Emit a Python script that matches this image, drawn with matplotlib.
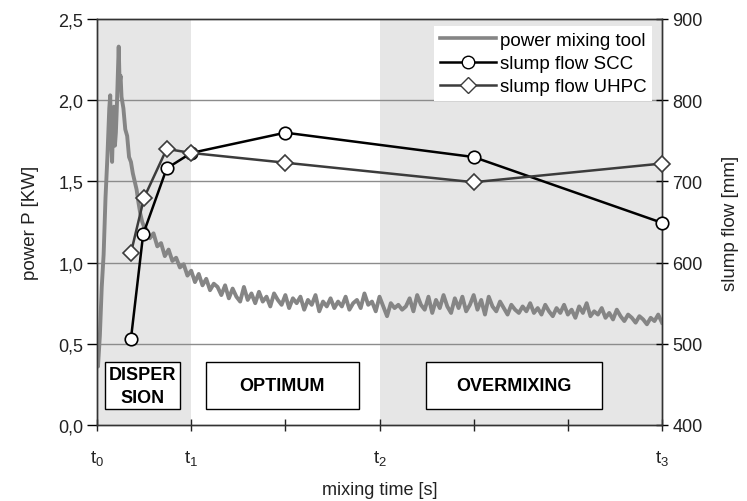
import numpy as np
import matplotlib
matplotlib.use("Agg")
import matplotlib.pyplot as plt
from matplotlib.patches import Rectangle
from matplotlib.lines import Line2D

plt.rcParams['font.family'] = ['Liberation Sans', 'DejaVu Sans']
plt.rcParams['mathtext.fontset'] = 'custom'
plt.rcParams['mathtext.rm'] = 'Liberation Sans'

# ---------------- data ----------------
# mixing time axis in units of tick spacing (t0=0, t1=1, t2=3, t3=6)
x_tick_pos = [0, 1, 2, 3, 4, 5, 6]
x_tick_labels = [r"$\mathregular{t_0}$", r"$\mathregular{t_1}$", "", r"$\mathregular{t_2}$", "", "", r"$\mathregular{t_3}$"]
left_ticks = [0.0, 0.5, 1.0, 1.5, 2.0, 2.5]
left_tick_labels = ["0,0", "0,5", "1,0", "1,5", "2,0", "2,5"]
right_ticks = [400, 500, 600, 700, 800, 900]
right_tick_labels = ["400", "500", "600", "700", "800", "900"]

# power of mixing tool [kW] - start-up peak
power_t_start = [0.00, 0.01, 0.03, 0.05, 0.07, 0.09, 0.11, 0.13, 0.14, 0.15, 0.16, 0.17,
                 0.18, 0.19, 0.20, 0.21, 0.22, 0.23, 0.24, 0.25, 0.26, 0.28, 0.30, 0.32,
                 0.34, 0.36, 0.38, 0.40, 0.42, 0.44, 0.46, 0.48, 0.50]
power_p_start = [0.40, 0.36, 0.55, 0.85, 1.05, 1.40, 1.65, 1.95, 2.03, 1.75, 1.62, 1.85,
                 1.96, 1.72, 1.80, 1.95, 2.15, 2.33, 2.10, 2.15, 2.02, 1.95, 1.82, 1.78,
                 1.65, 1.62, 1.55, 1.50, 1.45, 1.37, 1.30, 1.25, 1.22]
# power values read every 0.04 time units from 0.52 to 6.00
power_p_rest = [
    1.21, 1.15, 1.18, 1.10, 1.12, 1.04, 1.08, 1.01, 1.03, 0.97,
    0.99, 0.92, 0.95, 0.88, 0.93, 0.86, 0.90, 0.83, 0.87, 0.85,
    0.80, 0.86, 0.78, 0.84, 0.79, 0.76, 0.85, 0.77, 0.81, 0.75,
    0.82, 0.76, 0.79, 0.73, 0.81, 0.77, 0.74, 0.80, 0.72, 0.78,
    0.75, 0.79, 0.71, 0.77, 0.74, 0.80, 0.70, 0.76, 0.73, 0.78,
    0.72, 0.76, 0.73, 0.79, 0.71, 0.75, 0.77, 0.72, 0.81, 0.74,
    0.76, 0.70, 0.79, 0.73, 0.67, 0.75, 0.72, 0.74, 0.71, 0.73,
    0.78, 0.70, 0.80, 0.74, 0.71, 0.79, 0.69, 0.77, 0.72, 0.80,
    0.73, 0.69, 0.78, 0.72, 0.79, 0.70, 0.74, 0.80, 0.71, 0.77,
    0.68, 0.79, 0.73, 0.70, 0.76, 0.72, 0.68, 0.74, 0.71, 0.69,
    0.73, 0.70, 0.75, 0.69, 0.72, 0.68, 0.74, 0.70, 0.67, 0.72,
    0.69, 0.74, 0.68, 0.71, 0.66, 0.73, 0.69, 0.75, 0.67, 0.70,
    0.68, 0.72, 0.66, 0.69, 0.65, 0.71, 0.67, 0.64, 0.68, 0.66,
    0.63, 0.67, 0.65, 0.62, 0.66, 0.64, 0.68, 0.63]
power_t_rest = list(np.round(0.52 + 0.04 * np.arange(len(power_p_rest)), 2))

# slump flow [mm]
scc_t = [0.36, 0.49, 0.74, 1.0, 2.0, 4.0, 6.0]
scc_flow = [506, 635, 716, 735, 760, 730, 649]
uhpc_t = [0.36, 0.50, 0.74, 1.0, 2.0, 4.0, 6.0]
uhpc_flow = [612, 680, 740, 735, 723, 699, 722]

phases = ["DISPER\nSION", "OPTIMUM", "OVERMIXING"]

# ---------------- figure ----------------
fig = plt.figure(figsize=(7.47, 5.02), dpi=100)
ax = fig.add_axes([0.1299, 0.1514, 0.7563, 0.8088])
ax2 = ax.twinx()

ax.set_xlim(0, 6)
ax.set_ylim(0, 2.5)
ax2.set_ylim(400, 900)

ax.axvspan(0, 1, color='#e6e6e6', zorder=0, lw=0)
ax.axvspan(3, 6, color='#e6e6e6', zorder=0, lw=0)
for yv in left_ticks[1:-1]:
    ax.axhline(yv, color='#8c8c8c', lw=1.0, zorder=1)

t_power = power_t_start + power_t_rest
p_power = power_p_start + power_p_rest
ax.plot(t_power, p_power, color='#858585', lw=2.8, zorder=3)

# phase boxes
box_specs = [(0.085, 0.876), (1.157, 2.782), (3.494, 5.363)]
for (x0, x1), label in zip(box_specs, phases):
    ax.add_patch(Rectangle((x0, 0.10), x1 - x0, 0.285, facecolor='white',
                           edgecolor='black', lw=1.0, zorder=4))
    ax.text((x0 + x1) / 2, 0.2425, label, ha='center', va='center',
            fontsize=13, fontweight='bold', zorder=5, linespacing=1.45)

ax.set_xticks(x_tick_pos)
ax.set_xticklabels(x_tick_labels, fontsize=13.5)
ax.set_yticks(left_ticks)
ax.set_yticklabels(left_tick_labels, fontsize=13, color='#222222')
ax2.set_yticks(right_ticks)
ax2.set_yticklabels(right_tick_labels, fontsize=13, color='#222222')

ax.tick_params(axis='x', direction='inout', length=9, width=1, pad=12, colors='#222222')
ax.tick_params(axis='y', direction='out', length=7, width=1, pad=3)
ax2.tick_params(axis='y', direction='inout', length=9, width=1, pad=3)

for a in (ax, ax2):
    for s in a.spines.values():
        s.set_color('#333333')
        s.set_linewidth(1.0)

ax.set_xlabel("mixing time [s]", fontsize=13, color='#222222', labelpad=10)
ax.set_ylabel("power P [KW]", fontsize=13.5, color='#222222', labelpad=14)
ax2.set_ylabel("slump flow [mm]", fontsize=13.5, color='#222222', labelpad=14)

ax2.plot(scc_t, scc_flow, color='black', lw=1.8, marker='o', markersize=9,
         markerfacecolor='white', markeredgecolor='black', markeredgewidth=1.2,
         zorder=5, clip_on=False)
ax2.plot(uhpc_t, uhpc_flow, color='#3c3c3c', lw=1.8, marker='D', markersize=8,
         markerfacecolor='white', markeredgecolor='#3c3c3c', markeredgewidth=1.2,
         zorder=6, clip_on=False)

handles = [Line2D([], [], color='#858585', lw=2.6),
           Line2D([], [], color='black', lw=1.8, marker='o', markersize=9,
                  markerfacecolor='white', markeredgecolor='black'),
           Line2D([], [], color='#3c3c3c', lw=1.8, marker='D', markersize=8,
                  markerfacecolor='white', markeredgecolor='#3c3c3c')]
leg = ax2.legend(handles, ["power mixing tool", "slump flow SCC", "slump flow UHPC"],
                 loc='upper right', bbox_to_anchor=(0.982, 0.982), fontsize=13.5,
                 frameon=True, fancybox=False, framealpha=1, edgecolor='white',
                 handlelength=3.0, handletextpad=0.2, borderpad=0.3, labelspacing=0.32,
                 borderaxespad=0)
leg.get_frame().set_linewidth(0)

fig.savefig("out.png", dpi=100)
